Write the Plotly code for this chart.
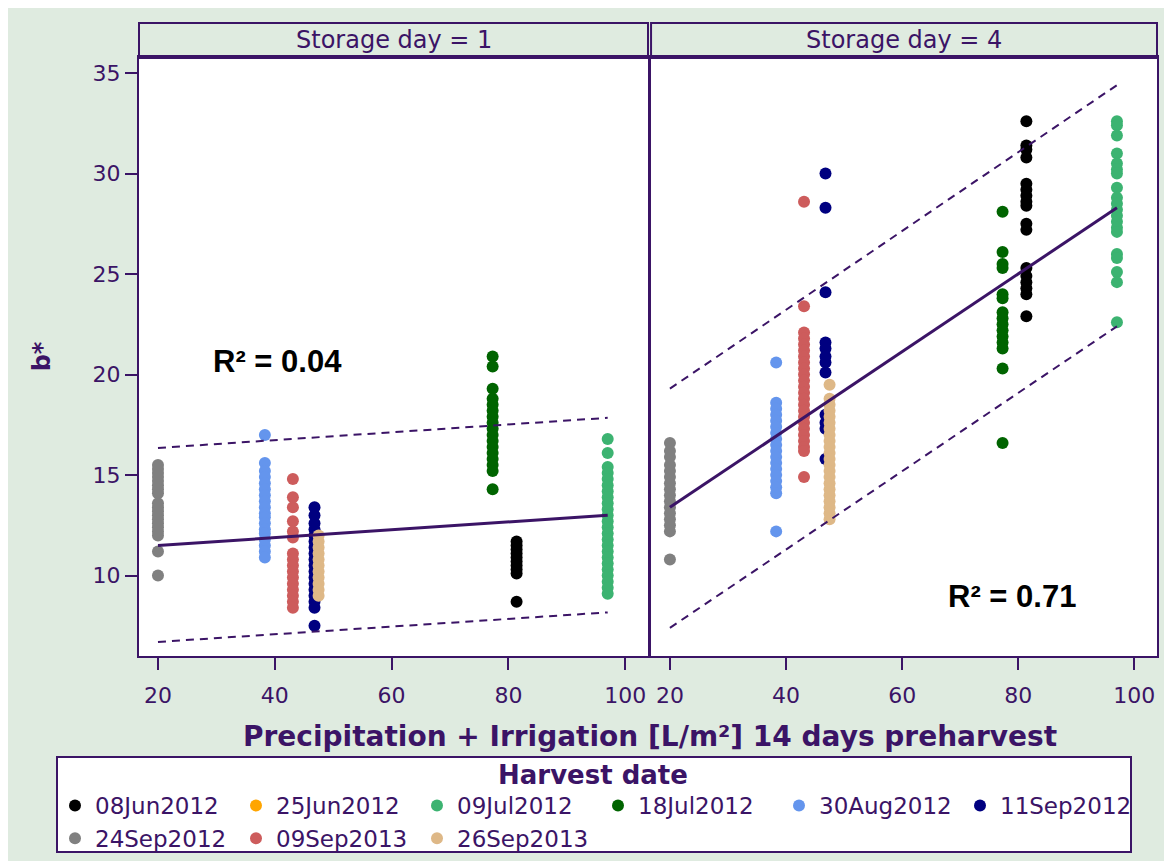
import plotly.graph_objects as go

# ---------------- data ----------------
dates = ["08Jun2012", "25Jun2012", "09Jul2012", "18Jul2012", "30Aug2012",
         "11Sep2012", "24Sep2012", "09Sep2013", "26Sep2013"]
colors = ["#000000", "#FFA500", "#3CB371", "#006400", "#6495ED",
          "#000080", "#808080", "#CD5C5C", "#DEB887"]
precip = [81.4, None, 97.0, 77.3, 38.3, 46.8, 20.0, 43.1, 47.5]

# Storage day = 1 (b* values)
d1_08Jun2012 = [11.7, 11.5, 11.3, 11.1, 10.9, 10.7, 10.5, 10.3, 10.1, 8.7]
d1_25Jun2012 = []
d1_09Jul2012 = [16.8, 16.1, 15.4, 15.1, 14.8, 14.5, 14.2, 13.9, 13.6, 13.3, 13.0, 12.7,
                12.4, 12.1, 11.8, 11.5, 11.2, 10.9, 10.6, 10.3, 10.0, 9.7, 9.4, 9.1]
d1_18Jul2012 = [20.9, 20.4, 19.3, 18.8, 18.5, 18.2, 17.9, 17.6, 17.3, 17.0, 16.7, 16.4,
                16.1, 15.8, 15.5, 15.2, 14.3]
d1_30Aug2012 = [17.0, 15.6, 15.2, 14.9, 14.6, 14.3, 14.0, 13.7, 13.4, 13.1, 12.9, 12.6,
                12.3, 12.1, 11.8, 11.5, 11.2, 10.9]
d1_11Sep2012 = [13.4, 13.0, 12.6, 12.3, 12.0, 11.7, 11.4, 11.1, 10.8, 10.5, 10.2, 9.9,
                9.6, 9.3, 9.0, 8.7, 8.4, 7.5]
d1_24Sep2012 = [15.5, 15.3, 15.1, 14.9, 14.7, 14.5, 14.3, 14.1, 13.6, 13.4, 13.2, 13.0,
                12.8, 12.6, 12.4, 12.2, 12.0, 11.2, 10.0]
d1_09Sep2013 = [14.8, 13.9, 13.4, 12.7, 12.2, 11.9, 11.1, 10.8, 10.5, 10.2, 9.9, 9.6,
                9.3, 9.0, 8.7, 8.4]
d1_26Sep2013 = [12.0, 11.7, 11.4, 11.1, 10.8, 10.5, 10.2, 9.9, 9.6, 9.3, 9.0]

# Storage day = 4 (b* values)
d4_08Jun2012 = [32.6, 31.4, 31.2, 30.8, 29.5, 29.2, 28.9, 28.6, 28.4, 27.5, 27.2, 25.3,
                24.9, 24.6, 24.3, 24.0, 22.9]
d4_25Jun2012 = []
d4_09Jul2012 = [32.6, 32.4, 31.9, 31.0, 30.5, 30.2, 30.0, 29.3, 28.8, 28.5, 28.2, 27.9,
                27.6, 27.3, 27.1, 26.0, 25.8, 25.1, 24.6, 22.6]
d4_18Jul2012 = [28.1, 26.1, 25.5, 25.3, 24.0, 23.8, 23.1, 22.8, 22.5, 22.2, 21.9, 21.6,
                21.3, 20.3, 16.6]
d4_30Aug2012 = [20.6, 18.6, 18.3, 18.0, 17.7, 17.4, 17.1, 16.8, 16.5, 16.2, 15.9, 15.6,
                15.3, 15.0, 14.7, 14.4, 14.1, 12.2]
d4_11Sep2012 = [30.0, 28.3, 24.1, 21.6, 21.3, 20.9, 20.6, 20.1, 18.0, 17.6, 17.3, 15.8]
d4_24Sep2012 = [16.6, 16.2, 15.9, 15.5, 15.2, 14.9, 14.6, 14.3, 14.0, 13.7, 13.4, 13.1,
                12.8, 12.5, 12.2, 10.8]
d4_09Sep2013 = [28.6, 23.4, 22.1, 21.8, 21.5, 21.2, 20.9, 20.6, 20.3, 20.0, 19.7, 19.4,
                19.1, 18.8, 18.5, 18.2, 17.9, 17.6, 17.3, 17.0, 16.7, 16.4, 16.2, 14.9]
d4_26Sep2013 = [19.5, 18.8, 18.5, 18.2, 17.9, 17.6, 17.3, 17.0, 16.7, 16.4, 16.1, 15.8,
                15.5, 15.2, 14.9, 14.6, 14.3, 14.0, 13.7, 13.4, 13.1, 12.8]

day1_values = [d1_08Jun2012, d1_25Jun2012, d1_09Jul2012, d1_18Jul2012, d1_30Aug2012,
               d1_11Sep2012, d1_24Sep2012, d1_09Sep2013, d1_26Sep2013]
day4_values = [d4_08Jun2012, d4_25Jun2012, d4_09Jul2012, d4_18Jul2012, d4_30Aug2012,
               d4_11Sep2012, d4_24Sep2012, d4_09Sep2013, d4_26Sep2013]

# regression line and prediction limits
fit_x = [20, 97]
fit1_y = [11.5, 13.0]
upper1_y = [16.35, 17.85]
lower1_y = [6.7, 8.17]
fit4_y = [13.4, 28.3]
upper4_y = [19.3, 34.4]
lower4_y = [7.4, 22.4]

r2_labels = ["R² = 0.04", "R² = 0.71"]
panel_titles = ["Storage day = 1", "Storage day = 4"]
x_ticks = [20, 40, 60, 80, 100]
y_ticks = [10, 15, 20, 25, 30, 35]

# ---------------- styling ----------------
BG = "#dfebe0"
PURPLE = "#3b1466"
FONT = "DejaVu Sans"
W, H = 1164, 853
ML, MR, MT, MB = 131, 15, 49, 205
PW, PH = W - ML - MR, H - MT - MB


def px_x(fx):
    return (fx - ML) / PW


def px_y(fy):
    return (H - MB - fy) / PH


fig = go.Figure()

for panel, (vals_list, xa, ya) in enumerate([(day1_values, "x", "y"), (day4_values, "x2", "y2")]):
    for date, col, pxv, vals in zip(dates, colors, precip, vals_list):
        if len(vals) == 0:
            xs, ys = [None], [None]
        else:
            xs, ys = [pxv] * len(vals), vals
        fig.add_trace(go.Scatter(
            x=xs, y=ys, mode="markers", name=date,
            marker=dict(color=col, size=12, line=dict(width=0)),
            xaxis=xa, yaxis=ya, showlegend=(panel == 0), legendgroup=date,
        ))

for fy, uy, ly, xa, ya in [(fit1_y, upper1_y, lower1_y, "x", "y"),
                           (fit4_y, upper4_y, lower4_y, "x2", "y2")]:
    for yy, dash, w in [(uy, "8px,6px", 2), (ly, "8px,6px", 2), (fy, "solid", 3)]:
        fig.add_trace(go.Scatter(
            x=fit_x, y=yy, mode="lines", xaxis=xa, yaxis=ya, showlegend=False,
            line=dict(color=PURPLE, width=w, dash=dash), hoverinfo="skip",
        ))

XR = [16.75, 103.9]
YR = [6.0, 35.8]
axis_common = dict(showline=True, linecolor=PURPLE, linewidth=2, mirror=True,
                   showgrid=False, zeroline=False, ticks="outside", ticklen=12,
                   tickcolor=PURPLE, tickwidth=1.5,
                   tickfont=dict(family=FONT, size=22, color=PURPLE))

fig.update_layout(
    width=W, height=H,
    paper_bgcolor=BG, plot_bgcolor="white",
    margin=dict(l=ML, r=MR, t=MT, b=MB, autoexpand=False),
    font=dict(family=FONT, color=PURPLE),
    xaxis=dict(domain=[0, 0.5], range=XR, tickvals=x_ticks, anchor="y",
               ticklabelstandoff=7, **axis_common),
    xaxis2=dict(domain=[0.503, 1], range=XR, tickvals=x_ticks, anchor="y2",
                ticklabelstandoff=7, **axis_common),
    yaxis=dict(domain=[0, 1], range=YR, tickvals=y_ticks, anchor="x",
               ticklabelstandoff=0,
               title=dict(text="<b>b*</b>", font=dict(family=FONT, size=24, color=PURPLE),
                          standoff=35),
               **axis_common),
    yaxis2=dict(domain=[0, 1], range=YR, matches="y", anchor="x2", showticklabels=False,
                showline=True, linecolor=PURPLE, linewidth=2, mirror=True,
                showgrid=False, zeroline=False, ticks=""),
    showlegend=True,
    legend=dict(
        orientation="h", x=px_x(47), xanchor="left", y=px_y(776), yanchor="top",
        bgcolor="rgba(0,0,0,0)", borderwidth=0,
        font=dict(family=FONT, size=23, color=PURPLE),
        entrywidth=136, entrywidthmode="pixels", traceorder="normal",
        itemclick=False, tracegroupgap=0,
    ),
)

# legend box + title
fig.add_shape(type="rect", xref="paper", yref="paper",
              x0=px_x(49), x1=px_x(1123), y0=px_y(749), y1=px_y(844),
              fillcolor="white", line=dict(color=PURPLE, width=2), layer="below")
fig.add_annotation(xref="paper", yref="paper", x=px_x(585), y=px_y(767),
                   text="<b>Harvest date</b>", showarrow=False,
                   xanchor="center", yanchor="middle",
                   font=dict(family=FONT, size=26, color=PURPLE))

# panel headers
hdr_top = 1 + 34 / PH
for (x0, x1), title in zip([(0, 0.5), (0.503, 1)], panel_titles):
    fig.add_shape(type="rect", xref="paper", yref="paper", x0=x0, x1=x1, y0=1, y1=hdr_top,
                  fillcolor=BG, line=dict(color=PURPLE, width=2), layer="above")
    fig.add_annotation(xref="paper", yref="paper", x=(x0 + x1) / 2, y=(1 + hdr_top) / 2,
                       text=title, showarrow=False, xanchor="center", yanchor="middle",
                       font=dict(family=FONT, size=24, color=PURPLE))
fig.add_shape(type="line", xref="paper", yref="paper", x0=0, x1=1, y0=1, y1=1,
              line=dict(color=PURPLE, width=4), layer="above")

# x-axis title (shared)
fig.add_annotation(xref="paper", yref="paper", x=px_x(642), y=px_y(729),
                   text="<b>Precipitation + Irrigation [L/m²] 14 days preharvest</b>",
                   showarrow=False, xanchor="center", yanchor="middle",
                   font=dict(family=FONT, size=28, color=PURPLE))

# R² labels
fig.add_annotation(xref="x", yref="y", x=40.5, y=20.65, text="<b>" + r2_labels[0] + "</b>",
                   showarrow=False, xanchor="center",
                   font=dict(family="Liberation Sans, Arial", size=31, color="black"))
fig.add_annotation(xref="x2", yref="y2", x=79.0, y=8.96, text="<b>" + r2_labels[1] + "</b>",
                   showarrow=False, xanchor="center",
                   font=dict(family="Liberation Sans, Arial", size=31, color="black"))

fig.write_html("out.html")
